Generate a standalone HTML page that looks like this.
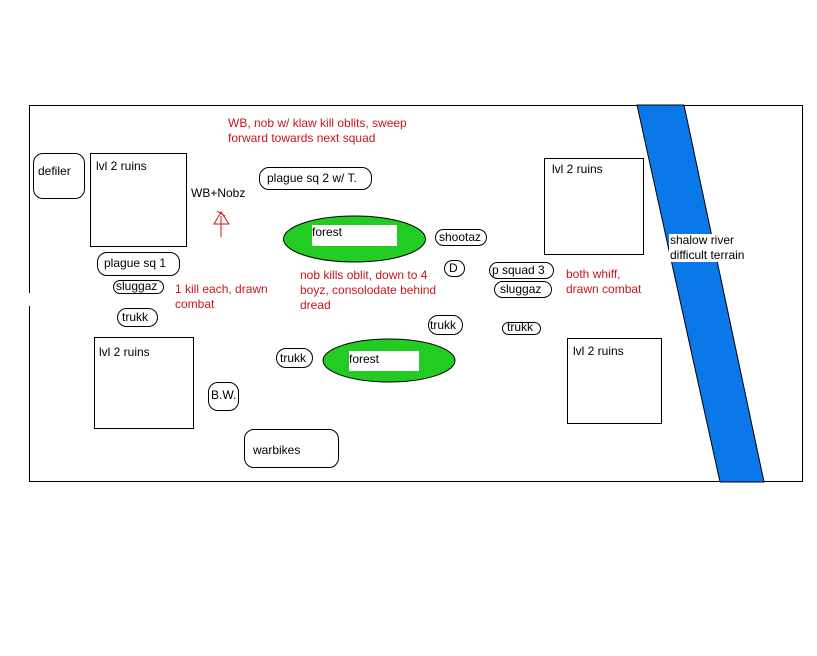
<!DOCTYPE html>
<html><head><meta charset="utf-8"><style>
body{margin:0;width:817px;height:656px;background:#fff;overflow:hidden;position:relative;font-family:"Liberation Sans",Arial,sans-serif;font-size:12px;}
.a{position:absolute;box-sizing:border-box;}
.b{border:1px solid #000;background:#fff;}
.r{border:1px solid #000;border-radius:10px;background:#fff;}
.t{position:absolute;white-space:nowrap;line-height:15px;}
.red{color:#c8161d;}
</style></head><body>
<svg class="a" style="left:0;top:0" width="817" height="656">
<rect x="29.5" y="105.5" width="773" height="376" fill="#fff" stroke="#000"/>
<line x1="29.5" y1="293" x2="29.5" y2="306" stroke="#fff" stroke-width="3"/>
<polygon points="637,105 684,105 764,482 720,482" fill="#0a78e8" stroke="#000" stroke-width="1"/>
<ellipse cx="354.5" cy="239" rx="71" ry="23" fill="#22cc22" stroke="#000"/>
<ellipse cx="389" cy="360.5" rx="66" ry="21.5" fill="#22cc22" stroke="#000"/>
<rect x="312" y="225" width="85" height="21" fill="#fff"/>
<rect x="349" y="351" width="70" height="20" fill="#fff"/>
<line x1="221" y1="237" x2="221" y2="216" stroke="#c8161d"/>
<polygon points="221,212 214,224 229,224" fill="none" stroke="#c8161d"/>
<line x1="217" y1="211" x2="225" y2="216" stroke="#c8161d"/>
</svg>
<div class="a r" style="left:33px;top:153px;width:52px;height:46px"></div>
<div class="t" style="left:38px;top:164px">defiler</div>
<div class="a b" style="left:90px;top:153px;width:97px;height:94px"></div>
<div class="t" style="left:96px;top:159px">lvl 2 ruins</div>
<div class="a b" style="left:544px;top:158px;width:100px;height:97px"></div>
<div class="t" style="left:552px;top:162px">lvl 2 ruins</div>
<div class="a b" style="left:94px;top:337px;width:100px;height:92px"></div>
<div class="t" style="left:99px;top:345px">lvl 2 ruins</div>
<div class="a b" style="left:567px;top:338px;width:95px;height:86px"></div>
<div class="t" style="left:573px;top:344px">lvl 2 ruins</div>
<div class="t" style="left:191px;top:186px">WB+Nobz</div>
<div class="t red" style="left:228px;top:116px">WB, nob w/ klaw kill oblits, sweep<br>forward towards next squad</div>
<div class="a r" style="left:259px;top:167px;width:113px;height:23px"></div>
<div class="t" style="left:267px;top:171px">plague sq 2 w/ T.</div>
<div class="t" style="left:312px;top:225px">forest</div>
<div class="t" style="left:349px;top:352px">forest</div>
<div class="a r" style="left:435px;top:229px;width:52px;height:17px"></div>
<div class="t" style="left:439px;top:230px">shootaz</div>
<div class="a r" style="left:444px;top:260px;width:21px;height:17px"></div>
<div class="t" style="left:449px;top:261px">D</div>
<div class="a r" style="left:489px;top:262px;width:65px;height:17px"></div>
<div class="t" style="left:492px;top:263px">p squad 3</div>
<div class="a r" style="left:494px;top:281px;width:58px;height:17px"></div>
<div class="t" style="left:500px;top:282px">sluggaz</div>
<div class="t red" style="left:566px;top:267px">both whiff,<br>drawn combat</div>
<div class="a" style="left:669px;top:234px;width:83px;height:28px;background:#fff"></div>
<div class="t" style="left:670px;top:233px">shalow river<br>difficult terrain</div>
<div class="a r" style="left:97px;top:252px;width:83px;height:24px"></div>
<div class="t" style="left:104px;top:256px">plague sq 1</div>
<div class="a r" style="left:113px;top:280px;width:51px;height:14px"></div>
<div class="t" style="left:116px;top:279px">sluggaz</div>
<div class="t red" style="left:175px;top:282px">1 kill each, drawn<br>combat</div>
<div class="t red" style="left:300px;top:268px">nob kills oblit, down to 4<br>boyz, consolodate behind<br>dread</div>
<div class="a r" style="left:117px;top:308px;width:41px;height:19px"></div>
<div class="t" style="left:122px;top:310px">trukk</div>
<div class="a r" style="left:428px;top:315px;width:35px;height:20px"></div>
<div class="t" style="left:430px;top:318px">trukk</div>
<div class="a r" style="left:502px;top:322px;width:39px;height:13px"></div>
<div class="t" style="left:507px;top:320px">trukk</div>
<div class="a r" style="left:276px;top:348px;width:37px;height:20px"></div>
<div class="t" style="left:280px;top:351px">trukk</div>
<div class="a r" style="left:208px;top:382px;width:31px;height:29px"></div>
<div class="t" style="left:211px;top:388px">B.W.</div>
<div class="a r" style="left:244px;top:429px;width:95px;height:39px"></div>
<div class="t" style="left:253px;top:443px">warbikes</div>
</body></html>
